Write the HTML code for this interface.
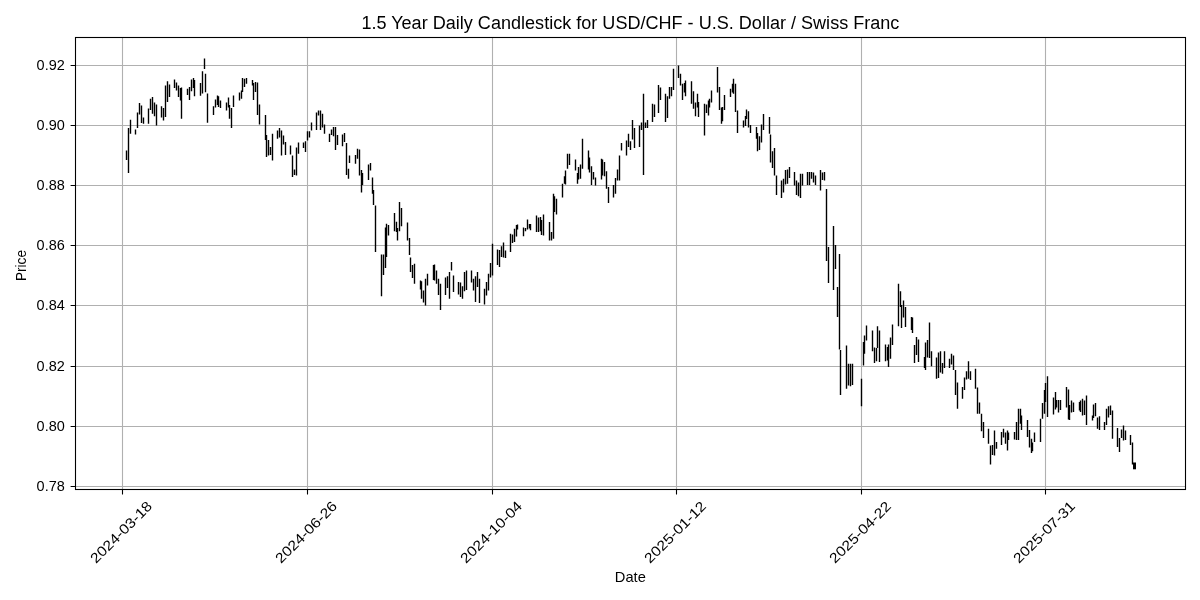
<!DOCTYPE html>
<html><head><meta charset="utf-8"><style>
html,body{margin:0;padding:0;background:#fff;width:1200px;height:600px;overflow:hidden}
svg{display:block;will-change:transform}
text{font-family:"Liberation Sans", sans-serif;fill:#000}
</style></head><body>
<svg width="1200" height="600" viewBox="0 0 1200 600">
<rect width="1200" height="600" fill="#fff"/>
<path d="M122.5 37.5V489.5M307.5 37.5V489.5M492.5 37.5V489.5M676.5 37.5V489.5M861.5 37.5V489.5M1045.5 37.5V489.5M75.5 65.5H1185.5M75.5 125.5H1185.5M75.5 185.5H1185.5M75.5 245.5H1185.5M75.5 305.5H1185.5M75.5 366.5H1185.5M75.5 426.5H1185.5M75.5 486.5H1185.5" stroke="#b0b0b0" stroke-width="1.1" fill="none"/>
<path d="M126.50 150.60V160.00M128.50 128.10V173.10M130.50 119.75V133.75M135.50 129.40V134.40M137.50 112.50V128.00M139.50 103.00V114.40M141.50 105.60V123.00M143.50 117.50V123.75M148.50 108.50V123.75M150.50 98.75V110.00M152.50 96.90V113.75M154.50 102.50V116.25M156.50 104.40V125.60M161.50 106.25V117.50M163.50 108.00V120.60M165.50 85.60V116.90M167.50 81.25V101.90M169.50 84.40V96.90M174.50 79.40V88.10M176.50 82.50V90.60M178.50 85.60V96.90M180.50 88.10V100.60M181.50 87.50V118.75M187.50 88.75V95.00M189.50 86.90V100.00M191.50 79.40V91.25M193.50 78.00V88.00M194.50 80.00V96.25M200.50 83.00V95.80M202.50 71.30V93.50M204.50 58.50V69.00M205.50 73.70V92.30M207.50 93.50V122.70M213.50 106.25V115.00M215.50 99.40V107.50M217.50 95.60V105.00M218.50 96.25V106.90M220.50 100.60V108.00M226.50 102.50V110.60M228.50 97.50V107.50M229.50 105.00V118.75M231.50 108.00V128.00M233.50 95.60V106.90M239.50 92.50V100.60M241.50 90.60V98.75M242.50 78.00V91.90M244.50 78.75V86.90M246.50 78.00V83.75M252.50 80.00V85.60M253.50 83.00V100.00M255.50 82.00V92.00M257.50 82.50V115.00M259.50 104.40V124.40M265.50 115.00V140.00M266.50 135.00V156.90M268.50 140.00V155.60M270.50 146.90V155.00M272.50 133.75V160.60M277.50 130.60V138.75M279.50 128.10V137.50M281.50 130.60V155.60M283.50 135.60V144.40M285.50 141.90V155.00M290.50 145.60V154.40M292.50 155.60V176.90M294.50 169.40V175.00M296.50 147.50V175.60M298.50 142.50V153.75M303.50 142.50V148.10M305.50 141.25V151.90M307.50 131.25V140.60M309.50 131.25V137.50M311.50 122.50V130.60M316.50 112.50V130.00M318.50 110.60V115.60M320.50 110.60V130.00M322.50 113.75V127.50M324.50 124.40V133.75M329.50 133.75V141.90M331.50 129.40V135.00M333.50 126.90V136.25M335.50 126.90V150.00M337.50 135.00V145.00M342.50 134.40V146.25M344.50 133.10V141.90M346.50 143.10V175.00M348.50 168.75V178.75M349.50 155.60V163.10M355.50 155.00V163.75M357.50 148.75V158.75M359.50 149.40V175.60M361.50 170.00V192.50M362.50 173.10V185.00M368.50 164.40V180.00M370.50 163.10V170.60M372.50 177.50V193.75M373.50 190.00V205.00M375.50 205.60V251.90M381.50 254.40V296.25M383.50 254.40V275.00M385.50 227.50V268.10M386.50 223.75V256.90M388.50 225.00V235.60M394.50 213.10V231.25M396.50 221.70V232.00M397.50 228.00V240.40M399.50 201.90V231.25M401.50 208.10V226.25M407.50 222.50V240.60M409.50 238.10V255.00M410.50 257.50V271.90M412.50 265.00V278.10M414.50 263.75V283.75M420.50 280.60V289.40M421.50 281.25V298.75M423.50 290.60V302.50M425.50 278.75V305.60M427.50 273.75V285.60M433.50 265.00V280.00M434.50 264.40V280.60M436.50 270.60V283.75M438.50 278.75V295.00M440.50 283.75V310.00M445.50 277.50V295.00M447.50 276.25V288.10M449.50 271.90V298.75M451.50 261.90V270.60M453.50 275.60V291.90M458.50 281.90V294.40M460.50 282.50V296.90M462.50 286.25V298.75M464.50 271.90V291.25M466.50 270.60V290.00M471.50 270.60V282.50M473.50 278.75V290.60M475.50 276.25V301.90M477.50 271.90V286.90M479.50 278.75V303.10M484.50 288.75V304.40M486.50 281.90V295.60M488.50 273.75V290.60M490.50 263.10V277.50M492.50 243.75V275.60M497.50 249.40V265.00M499.50 250.00V266.90M501.50 246.25V256.90M503.50 242.50V257.50M505.50 250.60V258.10M510.50 233.75V251.90M512.50 234.40V243.10M514.50 228.75V241.90M516.50 225.00V236.60M517.50 224.60V229.50M523.50 227.50V236.25M525.50 228.10V231.25M527.50 219.40V229.40M529.50 223.90V228.40M530.50 223.90V230.25M536.50 215.60V231.90M538.50 217.50V231.90M540.50 216.90V231.25M541.50 220.00V235.00M543.50 214.40V235.60M549.50 221.90V240.60M551.50 231.90V240.60M553.50 193.75V238.75M554.50 196.25V211.90M556.50 198.75V214.40M562.50 183.75V197.50M564.50 176.25V183.75M565.50 170.60V184.40M567.50 153.75V168.75M569.50 153.75V165.00M575.50 159.40V170.60M577.50 173.10V183.75M578.50 166.90V179.40M580.50 164.40V178.75M582.50 138.75V168.75M588.50 150.60V169.40M589.50 157.50V172.50M591.50 166.25V185.00M593.50 171.90V179.40M595.50 177.50V185.60M601.50 158.75V179.40M602.50 159.40V175.60M604.50 161.90V176.25M606.50 171.25V188.75M608.50 186.90V203.10M613.50 185.00V197.50M615.50 178.10V193.75M617.50 169.40V180.60M619.50 155.60V180.60M621.50 143.10V150.60M626.50 140.60V155.60M628.50 133.75V146.90M630.50 141.25V150.00M632.50 120.00V139.40M634.50 128.10V148.10M639.50 125.60V146.90M641.50 122.50V130.00M643.50 93.75V175.00M645.50 122.50V128.10M647.50 120.00V128.10M652.50 103.75V121.90M654.50 104.40V116.90M658.50 85.00V113.10M660.50 87.50V100.00M665.50 93.75V121.90M667.50 96.25V118.10M669.50 86.90V98.75M671.50 86.90V96.25M673.50 68.75V90.00M678.50 65.60V78.10M680.50 73.75V85.60M682.50 83.75V100.00M684.50 83.10V92.50M685.50 80.60V96.25M691.50 81.25V103.75M693.50 91.25V108.75M695.50 102.50V116.25M697.50 93.75V107.50M698.50 101.90V116.90M704.50 103.75V135.60M706.50 104.40V113.10M708.50 100.60V115.60M709.50 98.75V107.50M711.50 90.60V102.50M717.50 66.90V92.50M719.50 86.90V110.00M721.50 107.50V123.75M722.50 106.90V121.25M724.50 95.00V110.00M730.50 88.75V96.90M732.50 83.75V92.50M733.50 78.75V93.75M735.50 83.75V111.90M737.50 110.60V133.10M743.50 120.60V127.50M745.50 116.00V126.00M746.50 109.50V119.00M748.50 111.25V127.50M750.50 125.00V133.10M756.50 126.90V138.75M757.50 133.10V151.25M759.50 136.25V150.00M761.50 124.40V142.50M763.50 114.00V130.00M769.50 116.90V133.75M770.50 134.40V162.50M772.50 151.25V168.10M774.50 148.10V175.60M776.50 175.60V195.00M781.50 180.60V198.10M783.50 178.75V192.50M785.50 170.00V184.40M787.50 169.40V183.75M789.50 166.90V178.10M794.50 171.90V185.60M796.50 180.60V195.00M798.50 182.50V196.25M800.50 173.75V198.10M802.50 173.75V185.60M807.50 171.90V185.00M809.50 171.90V185.00M811.50 171.90V178.75M813.50 172.50V182.50M815.50 175.60V185.00M820.50 170.00V190.60M822.50 172.50V180.00M824.50 171.90V180.60M826.50 189.00V261.00M828.50 247.00V283.00M833.50 226.00V290.00M835.50 245.00V269.00M837.50 286.90V316.90M839.50 254.00V349.40M840.50 350.00V395.00M846.50 345.60V388.75M848.50 363.75V385.60M850.50 363.75V386.25M852.50 363.75V385.00M861.50 378.75V406.25M863.50 341.90V365.60M864.50 335.60V353.75M866.50 325.60V340.60M872.50 330.60V351.25M874.50 347.50V363.10M876.50 348.10V361.25M877.50 326.25V348.10M879.50 330.60V361.90M885.50 344.40V361.25M887.50 346.90V360.60M888.50 344.40V366.90M890.50 337.50V358.75M892.50 324.40V345.00M898.50 283.75V326.25M900.50 291.25V306.90M901.50 305.00V328.10M903.50 300.60V317.50M905.50 306.90V326.90M911.50 316.90V330.00M912.50 317.50V333.10M914.50 345.00V363.10M916.50 336.90V355.00M918.50 339.40V361.90M924.50 356.90V368.10M925.50 342.50V370.00M927.50 340.00V357.50M929.50 322.50V358.10M931.50 351.25V366.25M936.50 357.50V378.75M938.50 352.50V378.10M940.50 351.25V372.50M942.50 363.10V373.75M944.50 351.25V368.10M949.50 358.75V368.10M951.50 353.75V364.40M953.50 355.60V370.00M955.50 370.00V395.00M957.50 382.50V408.75M962.50 386.90V398.75M964.50 377.50V390.00M966.50 371.25V379.40M968.50 361.25V378.75M970.50 371.25V380.00M975.50 368.75V388.75M977.50 387.50V413.75M979.50 402.50V413.75M981.50 413.75V431.25M983.50 421.90V438.10M988.50 428.75V443.75M990.50 445.60V464.40M992.50 445.00V455.00M994.50 430.60V455.60M996.50 441.90V448.75M1001.50 431.90V445.00M1003.50 428.75V437.50M1005.50 432.50V443.75M1007.50 430.60V450.60M1008.50 432.50V440.00M1014.50 431.90V439.40M1016.50 421.90V440.00M1018.50 408.75V440.00M1020.50 408.75V423.75M1021.50 415.60V430.00M1027.50 420.00V436.90M1029.50 430.00V447.50M1031.50 438.75V453.10M1032.50 442.50V451.25M1034.50 432.50V441.90M1040.50 418.75V441.90M1042.50 403.10V418.75M1044.50 390.00V413.75M1045.50 383.10V401.90M1047.50 376.25V416.90M1053.50 397.50V414.40M1055.50 391.90V409.40M1056.50 400.00V407.50M1058.50 400.00V412.50M1060.50 400.00V410.00M1066.50 386.90V407.50M1068.50 389.40V419.40M1069.50 405.00V420.00M1071.50 400.60V412.50M1073.50 402.50V411.90M1079.50 401.90V410.60M1080.50 400.60V411.90M1082.50 398.75V415.60M1084.50 400.60V415.00M1086.50 395.60V425.00M1092.50 415.60V420.60M1093.50 404.40V418.10M1095.50 403.10V416.25M1097.50 417.50V428.75M1099.50 416.25V430.00M1104.50 421.90V430.00M1106.50 408.75V425.00M1108.50 406.25V417.50M1110.50 405.60V415.00M1112.50 410.60V438.75M1117.50 428.10V446.90M1119.50 438.10V451.90M1121.50 429.40V438.10M1123.50 425.60V440.60M1125.50 430.60V440.00M1130.50 435.00V445.00M1132.50 442.50V464.40M1134.50 463.10V468.75" stroke="#000" stroke-width="1.39" fill="none"/>
<rect x="1133" y="462.5" width="3" height="6.8" fill="#000"/>
<rect x="75.5" y="37.5" width="1110" height="452" fill="none" stroke="#000" stroke-width="1.1"/>
<path d="M122.5 489.5V494.4M307.5 489.5V494.4M492.5 489.5V494.4M676.5 489.5V494.4M861.5 489.5V494.4M1045.5 489.5V494.4M70.6 65.5H75.5M70.6 125.5H75.5M70.6 185.5H75.5M70.6 245.5H75.5M70.6 305.5H75.5M70.6 366.5H75.5M70.6 426.5H75.5M70.6 486.5H75.5" stroke="#000" stroke-width="1.1" fill="none"/>
<text x="64.8" y="69.80" font-size="14.1" text-anchor="end" textLength="28.2" lengthAdjust="spacingAndGlyphs">0.92</text>
<text x="64.8" y="129.80" font-size="14.1" text-anchor="end" textLength="28.2" lengthAdjust="spacingAndGlyphs">0.90</text>
<text x="64.8" y="189.80" font-size="14.1" text-anchor="end" textLength="28.2" lengthAdjust="spacingAndGlyphs">0.88</text>
<text x="64.8" y="249.80" font-size="14.1" text-anchor="end" textLength="28.2" lengthAdjust="spacingAndGlyphs">0.86</text>
<text x="64.8" y="309.80" font-size="14.1" text-anchor="end" textLength="28.2" lengthAdjust="spacingAndGlyphs">0.84</text>
<text x="64.8" y="370.80" font-size="14.1" text-anchor="end" textLength="28.2" lengthAdjust="spacingAndGlyphs">0.82</text>
<text x="64.8" y="430.80" font-size="14.1" text-anchor="end" textLength="28.2" lengthAdjust="spacingAndGlyphs">0.80</text>
<text x="64.8" y="490.80" font-size="14.1" text-anchor="end" textLength="28.2" lengthAdjust="spacingAndGlyphs">0.78</text>
<g transform="translate(121.00 532.00) rotate(-45)"><text x="0" y="5.05" font-size="14.1" text-anchor="middle" textLength="80.5" lengthAdjust="spacingAndGlyphs">2024-03-18</text></g>
<g transform="translate(306.00 532.00) rotate(-45)"><text x="0" y="5.05" font-size="14.1" text-anchor="middle" textLength="80.5" lengthAdjust="spacingAndGlyphs">2024-06-26</text></g>
<g transform="translate(491.00 532.00) rotate(-45)"><text x="0" y="5.05" font-size="14.1" text-anchor="middle" textLength="80.5" lengthAdjust="spacingAndGlyphs">2024-10-04</text></g>
<g transform="translate(675.00 532.00) rotate(-45)"><text x="0" y="5.05" font-size="14.1" text-anchor="middle" textLength="80.5" lengthAdjust="spacingAndGlyphs">2025-01-12</text></g>
<g transform="translate(860.00 532.00) rotate(-45)"><text x="0" y="5.05" font-size="14.1" text-anchor="middle" textLength="80.5" lengthAdjust="spacingAndGlyphs">2025-04-22</text></g>
<g transform="translate(1044.00 532.00) rotate(-45)"><text x="0" y="5.05" font-size="14.1" text-anchor="middle" textLength="80.5" lengthAdjust="spacingAndGlyphs">2025-07-31</text></g>
<text x="630.35" y="582" font-size="14.1" text-anchor="middle" textLength="31" lengthAdjust="spacingAndGlyphs">Date</text>
<g transform="translate(26 265.5) rotate(-90)"><text x="0" y="0" font-size="14.1" text-anchor="middle" textLength="31" lengthAdjust="spacingAndGlyphs">Price</text></g>
<text x="630.4" y="29.25" font-size="18" text-anchor="middle" textLength="538" lengthAdjust="spacingAndGlyphs">1.5 Year Daily Candlestick for USD/CHF - U.S. Dollar / Swiss Franc</text>
</svg>
</body></html>
